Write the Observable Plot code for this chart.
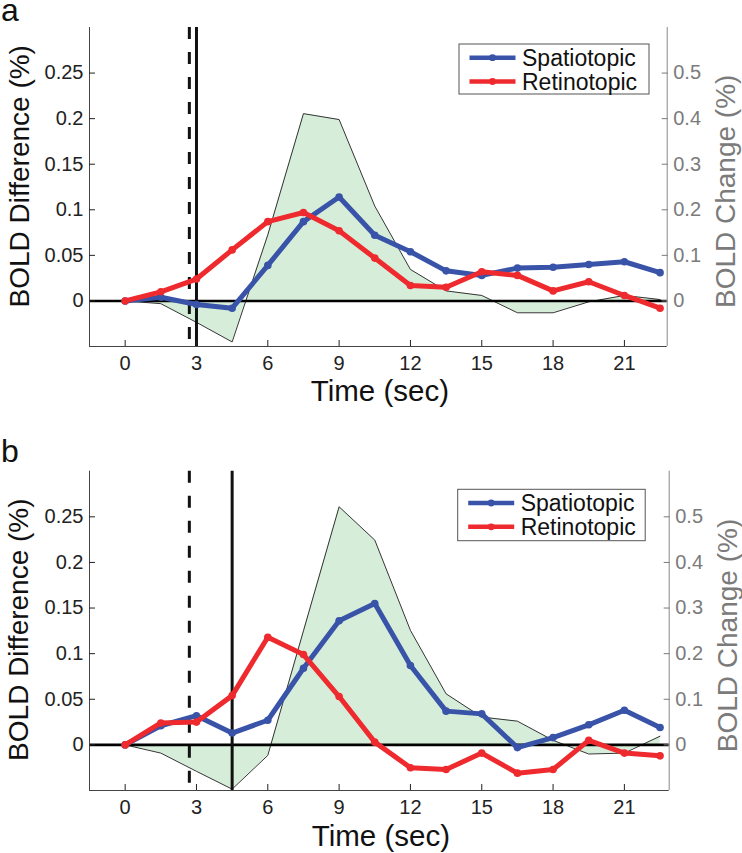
<!DOCTYPE html>
<html>
<head>
<meta charset="utf-8">
<script src="https://cdn.jsdelivr.net/npm/d3@7"></script>
<script src="https://cdn.jsdelivr.net/npm/@observablehq/plot@0.6"></script>
<style>
  body { margin: 0; background: #fff; }
  #chart { width: 742px; }
  #chart svg { display: block; }
</style>
</head>
<body>
<div id="chart"></div>
<script>
// ---- data ----
const time = [0, 1.5, 3, 4.5, 6, 7.5, 9, 10.5, 12, 13.5, 15, 16.5, 18, 19.5, 21, 22.5];
const seriesNames = ["Spatiotopic", "Retinotopic"];

// Panel a — BOLD difference (%), left axis
const spatioA = [0, 0.004, -0.004, -0.008, 0.039, 0.087, 0.114, 0.072, 0.054, 0.033, 0.028, 0.036, 0.037, 0.040, 0.043, 0.031];
const retinoA = [0, 0.010, 0.024, 0.056, 0.087, 0.097, 0.077, 0.047, 0.017, 0.015, 0.032, 0.028, 0.011, 0.021, 0.006, -0.008];
// Panel a — BOLD change (%), right axis
const boldA = [0, -0.006, -0.047, -0.090, 0.145, 0.411, 0.398, 0.208, 0.069, 0.022, 0.012, -0.026, -0.026, -0.002, 0.012, 0.003];

// Panel b
const spatioB = [0, 0.021, 0.032, 0.013, 0.027, 0.084, 0.136, 0.155, 0.087, 0.037, 0.034, -0.003, 0.008, 0.022, 0.038, 0.019];
const retinoB = [0, 0.024, 0.025, 0.054, 0.118, 0.099, 0.053, 0.003, -0.025, -0.027, -0.009, -0.031, -0.027, 0.005, -0.009, -0.012];
const boldB = [0, -0.018, -0.058, -0.097, -0.023, 0.250, 0.522, 0.449, 0.251, 0.112, 0.061, 0.052, 0.010, -0.020, -0.018, 0.019];

// markers (vertical lines)
const eventsA = { dashed: 2.7, solid: 3.0 };
const eventsB = { dashed: 2.7, solid: 4.5 };

// ticks
const xTicks = [0, 3, 6, 9, 12, 15, 18, 21];
const leftTicks = [0, 0.05, 0.1, 0.15, 0.2, 0.25];
const rightTicks = [0, 0.1, 0.2, 0.3, 0.4, 0.5];

// ---- styling ----
const FONT = "'Liberation Sans', Arial, Helvetica, sans-serif";
const BLUE = "#3853a7", RED = "#ee2a2e", GREEN = "#d6eed9";
const fmt = v => String(+v.toFixed(2));

function panel(p) {
  const rows = time.map((t, i) => ({ t, s: p.spatio[i], r: p.retino[i], b: p.bold[i] }));
  const xMin = -1.5;
  const plot = Plot.plot({
    width: 742,
    height: p.height,
    marginLeft: 89,
    marginRight: p.marginRight,
    marginTop: p.marginTop,
    marginBottom: p.marginBottom,
    style: { fontFamily: FONT, background: "white", overflow: "visible" },
    x: { domain: [xMin, p.xMax] },
    y: { domain: [-0.05, 0.3] },
    marks: [
      // BOLD change area (right axis = 2 × left axis)
      Plot.areaY(rows, { x: "t", y: d => d.b / 2, fill: GREEN }),
      Plot.lineY(rows, { x: "t", y: d => d.b / 2, stroke: "#333", strokeWidth: 1 }),
      Plot.ruleY([0], { stroke: "#000", strokeWidth: 2.6 }),
      Plot.ruleX([p.events.dashed], { stroke: "#111", strokeWidth: 3, strokeDasharray: "12,13" }),
      Plot.ruleX([p.events.solid], { stroke: "#111", strokeWidth: 3 }),
      Plot.line(rows, { x: "t", y: "s", stroke: BLUE, strokeWidth: 5, strokeLinejoin: "round" }),
      Plot.dot(rows, { x: "t", y: "s", r: 3.8, fill: BLUE }),
      Plot.line(rows, { x: "t", y: "r", stroke: RED, strokeWidth: 5, strokeLinejoin: "round" }),
      Plot.dot(rows, { x: "t", y: "r", r: 3.8, fill: RED }),
      // axis lines
      Plot.ruleX([xMin], { stroke: "#444", strokeWidth: 1 }),
      Plot.ruleX([p.xMax], { stroke: "#888", strokeWidth: 1 }),
      Plot.ruleY([-0.05], { stroke: "#444", strokeWidth: 1 }),
      // axes with inward ticks
      Plot.axisX({ anchor: "bottom", ticks: xTicks, tickSize: 6, dy: -6, tickPadding: 9, fontSize: 20, color: "#222", label: null }),
      Plot.axisY({ anchor: "left", ticks: leftTicks, tickFormat: fmt, tickSize: 6, dx: 6, tickPadding: 6, fontSize: 20, color: "#222", label: null }),
      Plot.axisY({ anchor: "right", ticks: rightTicks.map(v => v / 2), tickFormat: d => fmt(d * 2), tickSize: 6, dx: -6, tickPadding: 6, fontSize: 20, color: "#7b7b7b", label: null }),
      // axis labels
      Plot.text(["Time (sec)"], { text: d => d, frameAnchor: "bottom", textAnchor: "middle", dx: 1.5, dy: p.tdy, lineAnchor: "bottom", fontSize: 29.5, fill: "#111" }),
      Plot.text(["BOLD Difference (%)"], { text: d => d, frameAnchor: "left", textAnchor: "middle", dx: p.lx, dy: p.ly, rotate: -90, lineAnchor: "bottom", fontSize: 28, fill: "#111" }),
      Plot.text(["BOLD Change (%)"], { text: d => d, frameAnchor: "right", textAnchor: "middle", dx: 67.3, dy: p.ry, rotate: -90, lineAnchor: "bottom", fontSize: 28, fill: "#7b7b7b" })
    ]
  });

  const svg = d3.select(plot);
  // legend
  const colors = [BLUE, RED];
  const g = svg.append("g").attr("transform", `translate(${p.legX},${p.legY})`)
    .attr("font-family", FONT).attr("text-anchor", "start");
  g.append("rect").attr("x", 0).attr("y", 0).attr("width", p.legW).attr("height", p.legH)
    .attr("fill", "white").attr("stroke", "#555").attr("stroke-width", 1);
  seriesNames.forEach((name, i) => {
    const yy = [13.7, 37.5][i];
    g.append("line").attr("x1", 10.5).attr("x2", 56.5).attr("y1", yy).attr("y2", yy)
      .attr("stroke", colors[i]).attr("stroke-width", 4.5);
    g.append("circle").attr("cx", 33.5).attr("cy", yy).attr("r", 3.4).attr("fill", colors[i]);
    g.append("text").attr("x", 63).attr("y", yy + 8.2).attr("font-size", 23)
      .attr("text-anchor", "start").attr("fill", "#111").text(name);
  });
  // panel letter
  svg.append("text").attr("x", 1).attr("y", p.letterY).attr("font-family", FONT)
    .attr("text-anchor", "start").attr("font-size", 32).attr("fill", "#111").text(p.letter);
  return plot;
}

const chart = document.getElementById("chart");
chart.appendChild(panel({
  spatio: spatioA, retino: retinoA, bold: boldA, events: eventsA,
  height: 420, marginTop: 27, marginBottom: 74, marginRight: 75.3, xMax: 22.80,
  tdy: 54, lx: -60.5, ly: -10.7, ry: 4.3,
  legX: 459, legY: 44, legW: 190, legH: 50,
  letter: "a", letterY: 20.7
}));
chart.appendChild(panel({
  spatio: spatioB, retino: retinoB, bold: boldB, events: eventsB,
  height: 433, marginTop: 50.7, marginBottom: 63, marginRight: 73.3, xMax: 22.885,
  tdy: 55, lx: -61.5, ly: -1.2, ry: 4.65,
  legX: 457.7, legY: 69.3, legW: 187.5, legH: 51.4,
  letter: "b", letterY: 42.3
}));
</script>
</body>
</html>
